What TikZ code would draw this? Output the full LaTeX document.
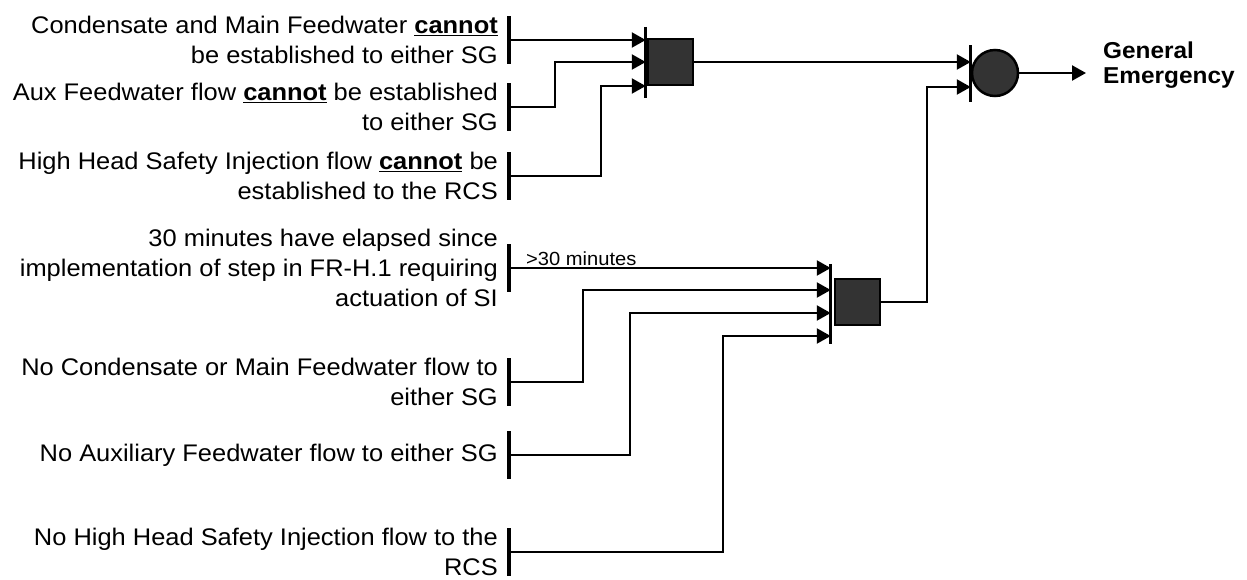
\documentclass[tikz,border=0pt]{standalone}
\usepackage{fontspec}
\setmainfont{Liberation Sans}[FakeStretch=1.06]
\usetikzlibrary{arrows.meta,calc,positioning}

\begin{document}
\begin{tikzpicture}[
    x=1pt,y=-1pt,
    cond/.style={inner sep=0pt,align=right,anchor=east,font=\fontsize{24}{30}\selectfont},
    note/.style={inner sep=0pt,font=\fontsize{19}{22}\selectfont},
    result/.style={inner sep=0pt,align=left,anchor=west,font=\fontsize{23}{25}\selectfont\bfseries},
    bar/.style={line width=3.2pt},
    gatebar/.style={line width=3.2pt},
    wire/.style={line width=2.3pt},
    arrow/.style={wire,-{Triangle[length=14pt,width=15pt]}},
    andgate/.style={rectangle,draw,line width=2.5pt,fill=black!80,minimum width=45pt,minimum height=46pt,inner sep=0pt},
    orgate/.style={circle,draw,line width=2.5pt,fill=black!80,minimum size=46pt,inner sep=0pt}
]
    \useasboundingbox (0,0) rectangle (1247,579);

    % conditions
    \node[cond] (t1) at (498,40) {Condensate and Main Feedwater \underline{\textbf{cannot}}\\be established to either SG};
    \node[cond] (t2) at (498,107) {Aux Feedwater flow \underline{\textbf{cannot}} be established\\to either SG};
    \node[cond] (t3) at (498,176) {High Head Safety Injection flow \underline{\textbf{cannot}} be\\established to the RCS};
    \node[cond] (t4) at (498,268) {30 minutes have elapsed since\\implementation of step in FR-H.1 requiring\\actuation of SI};
    \node[cond] (t5) at (498,382) {No Condensate or Main Feedwater flow to\\either SG};
    \node[cond] (t6) at (498,455) {No Auxiliary Feedwater flow to either SG};
    \node[cond] (t7) at (498,552) {No High Head Safety Injection flow to the\\RCS};

    \foreach \i in {1,...,7} {
        \coordinate (c\i) at ([xshift=11pt]t\i.east);
        \draw[bar] ($(c\i)+(0,-24)$) -- ($(c\i)+(0,24)$);
    }

    % gates
    \node[andgate] (g1) at (670.5,62) {};
    \node[andgate] (g2) at (857.5,302) {};
    \node[orgate] (ge) at (995,73) {};
    \node[result] (out) at (1103,65) {General\\Emergency};

    \draw[gatebar] ($(g1.north west)+(-1,-11)$) -- ($(g1.south west)+(-1,12)$);
    \draw[gatebar] ($(g2.north west)+(-3,-14)$) -- ($(g2.south west)+(-3,18)$);
    \draw[gatebar] ($(ge.west)+(0,-28)$) -- ($(ge.west)+(0,29)$);

    \coordinate (g1a) at ($(g1.west)+(-1,-22)$);
    \coordinate (g1b) at ($(g1.west)+(-1,0)$);
    \coordinate (g1c) at ($(g1.west)+(-1,24)$);
    \coordinate (g2a) at ($(g2.west)+(-3,-34)$);
    \coordinate (g2b) at ($(g2.west)+(-3,-12)$);
    \coordinate (g2c) at ($(g2.west)+(-3,11)$);
    \coordinate (g2d) at ($(g2.west)+(-3,34)$);
    \coordinate (gea) at ($(ge.west)+(0,-11)$);
    \coordinate (geb) at ($(ge.west)+(0,14)$);

    \draw[arrow] (c1) -- (g1a);
    \draw[arrow] (c2) -- ++(46,0) |- (g1b);
    \draw[arrow] (c3) -- ++(92,0) |- (g1c);

    \draw[arrow] (c4) -- (g2a);
    \node[note,anchor=base west] (tm) at (526,265) {>30 minutes};
    \draw[arrow] (c5) -- ++(74,0) |- (g2b);
    \draw[arrow] (c6) -- ++(121,0) |- (g2c);
    \draw[arrow] (c7) -- ++(214,0) |- (g2d);

    \draw[arrow] (g1.east) -- (gea);
    \draw[arrow] (g2.east) -- ++(46,0) |- (geb);
    \draw[arrow] (ge.east) -- ([xshift=-17pt]out.west |- ge.east);
\end{tikzpicture}
\end{document}
